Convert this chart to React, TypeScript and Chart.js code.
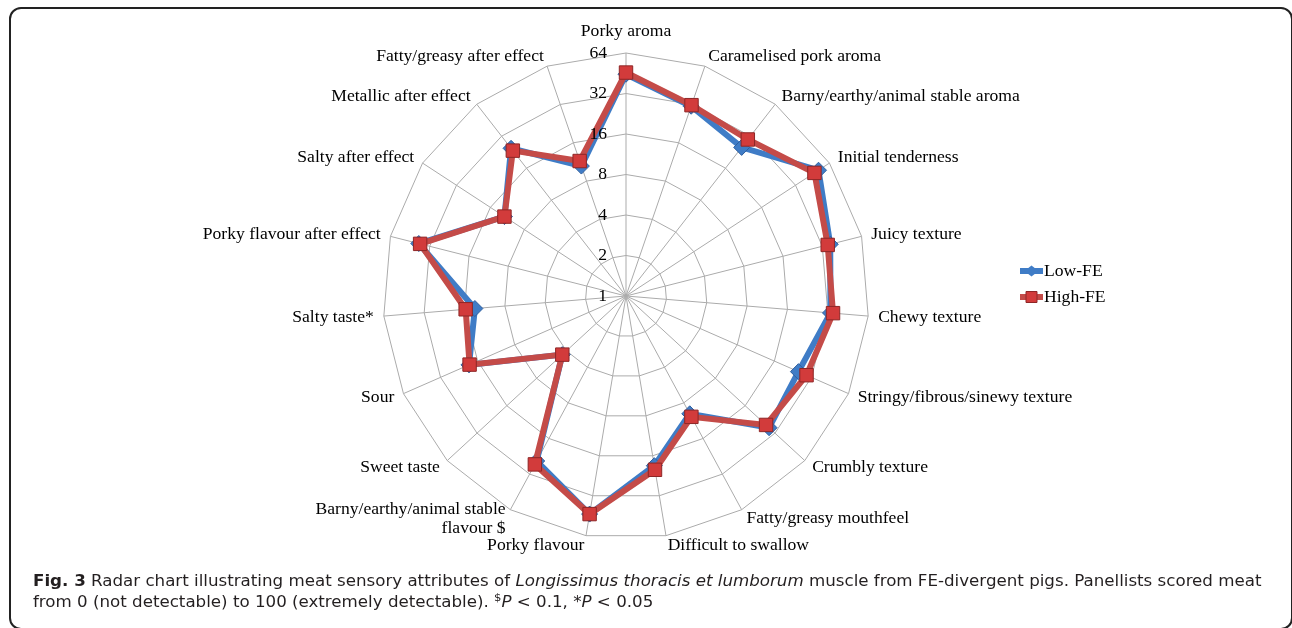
import React, { useEffect, useLayoutEffect, useRef } from "react";
import { Chart, registerables } from "chart.js";

Chart.register(...registerables);

const categories: string[] = [
  "Porky aroma",
  "Caramelised pork aroma",
  "Barny/earthy/animal stable aroma",
  "Initial tenderness",
  "Juicy texture",
  "Chewy texture",
  "Stringy/fibrous/sinewy texture",
  "Crumbly texture",
  "Fatty/greasy mouthfeel",
  "Difficult to swallow",
  "Porky flavour",
  "Barny/earthy/animal stable\nflavour $",
  "Sweet taste",
  "Sour",
  "Salty taste*",
  "Porky flavour after effect",
  "Salty after effect",
  "Metallic after effect",
  "Fatty/greasy after effect",
];

const lowFE: number[] = [44.5, 31.0, 25.1, 51.2, 36.8, 33.5, 25.1, 27.9, 9.9, 19.0, 44.0, 24.8, 4.4, 18.8, 13.4, 38.8, 12.0, 24.6, 10.5];
const highFE: number[] = [45.8, 31.6, 29.8, 47.1, 35.2, 35.0, 29.2, 26.0, 10.5, 20.4, 44.0, 26.5, 4.4, 18.6, 15.7, 37.9, 12.0, 23.4, 11.5];

const tickValues: number[] = [1, 2, 4, 8, 16, 32, 64];
const seriesNames: string[] = ["Low-FE", "High-FE"];

const BLUE = "#3F7CC6";
const BLUE_EDGE = "#2F5F9E";
const RED = "#C44B48";
const RED_FILL = "#D23B3B";
const RED_EDGE = "#8E2626";
const SERIF = '"Liberation Serif", "Times New Roman", serif';
const LABEL_FONT = 17.6;

const overlayPlugin = {
  id: "overlay",
  afterDraw(chart: any) {
    const scale = chart.scales.r;
    const ctx = chart.ctx as CanvasRenderingContext2D;
    ctx.save();
    ctx.fillStyle = "#000";
    ctx.font = `${LABEL_FONT}px ${SERIF}`;
    // tick labels
    ctx.textAlign = "right";
    ctx.textBaseline = "middle";
    tickValues.forEach((t) => {
      const d = scale.getDistanceFromCenterForValue(Math.log2(t));
      ctx.fillText(String(t), scale.xCenter - 19, scale.yCenter - d);
    });
    // point labels
    const n = categories.length;
    const lineH = 19;
    const pad = 10;
    for (let i = 0; i < n; i++) {
      const lines = categories[i].split("\n");
      const h = lines.length * lineH;
      const a = (i * 2 * Math.PI) / n;
      const s = Math.sin(a);
      const c = Math.cos(a);
      const p = scale.getPointPosition(i, scale.drawingArea + pad);
      const centred = Math.abs(s) < 0.02;
      ctx.textAlign = centred ? "center" : s > 0 ? "left" : "right";
      const cy = centred ? p.y - (h / 2 + 2) * c : p.y;
      lines.forEach((ln, k) => {
        ctx.fillText(ln, p.x, cy - h / 2 + lineH * (k + 0.5));
      });
    }
    // legend
    const lx = 1020;
    const ly = 271;
    const gap = 26;
    seriesNames.forEach((name, k) => {
      const y = ly + k * gap;
      ctx.lineWidth = 6;
      ctx.strokeStyle = k === 0 ? BLUE : RED;
      ctx.beginPath();
      ctx.moveTo(lx, y);
      ctx.lineTo(lx + 23, y);
      ctx.stroke();
      const cx = lx + 11.5;
      ctx.beginPath();
      if (k === 0) {
        ctx.moveTo(cx - 7, y);
        ctx.lineTo(cx, y - 5.5);
        ctx.lineTo(cx + 7, y);
        ctx.lineTo(cx, y + 5.5);
        ctx.closePath();
        ctx.fillStyle = BLUE;
        ctx.fill();
      } else {
        ctx.rect(cx - 5.5, y - 5.5, 11, 11);
        ctx.fillStyle = RED_FILL;
        ctx.fill();
        ctx.lineWidth = 1;
        ctx.strokeStyle = RED_EDGE;
        ctx.stroke();
      }
      ctx.fillStyle = "#000";
      ctx.textAlign = "left";
      ctx.textBaseline = "middle";
      ctx.fillText(name, lx + 24, y);
    });
    ctx.restore();
  },
};

function RadarChart() {
  const ref = useRef<HTMLCanvasElement | null>(null);
  useEffect(() => {
    if (!ref.current) return;
    const chart = new Chart(ref.current, {
      type: "radar",
      data: {
        labels: categories,
        datasets: [
          {
            label: seriesNames[0],
            data: lowFE.map((v) => Math.log2(v)),
            borderColor: BLUE,
            backgroundColor: BLUE,
            borderWidth: 6,
            fill: false,
            pointStyle: "rectRot",
            pointRadius: 8,
            pointBackgroundColor: BLUE,
            pointBorderColor: BLUE_EDGE,
            pointBorderWidth: 1,
            order: 2,
          },
          {
            label: seriesNames[1],
            data: highFE.map((v) => Math.log2(v)),
            borderColor: RED,
            backgroundColor: RED,
            borderWidth: 6,
            fill: false,
            pointStyle: "rect",
            pointRadius: 9.5,
            pointBackgroundColor: RED_FILL,
            pointBorderColor: RED_EDGE,
            pointBorderWidth: 1,
            order: 1,
          },
        ],
      },
      options: {
        responsive: false,
        animation: false,
        devicePixelRatio: 1,
        layout: { padding: { left: 300, right: 340, top: 53, bottom: 89 } },
        plugins: { legend: { display: false }, tooltip: { enabled: false } },
        elements: { line: { tension: 0 } },
        scales: {
          r: {
            min: 0,
            max: 6,
            ticks: { display: false, stepSize: 1 },
            pointLabels: { display: false },
            grid: { color: "#ABABAB", lineWidth: 1 },
            angleLines: { color: "#ABABAB", lineWidth: 1 },
          },
        },
      },
      plugins: [overlayPlugin],
    });
    return () => chart.destroy();
  }, []);
  return <canvas ref={ref} width={1292} height={628} style={{ position: "absolute", left: 0, top: 0 }} />;
}

function Caption() {
  const l1 = useRef<HTMLDivElement | null>(null);
  const l2 = useRef<HTMLDivElement | null>(null);
  useLayoutEffect(() => {
    if (!l1.current || !l2.current) return;
    const w = l1.current.scrollWidth;
    const k = 1229 / w;
    l1.current.style.transform = `scaleX(${k})`;
    l2.current.style.transform = `scaleX(${k})`;
  }, []);
  const base: React.CSSProperties = {
    position: "absolute",
    left: 33,
    whiteSpace: "nowrap",
    transformOrigin: "left center",
    fontFamily: '"DejaVu Sans", "Open Sans", sans-serif',
    fontStretch: "condensed",
    fontSize: 16,
    lineHeight: "20px",
    color: "#231F20",
  };
  return (
    <>
      <div ref={l1} style={{ ...base, top: 571 }}>
        <b>Fig. 3</b> Radar chart illustrating meat sensory attributes of <i>Longissimus thoracis et lumborum</i> muscle from FE-divergent pigs. Panellists scored meat
      </div>
      <div ref={l2} style={{ ...base, top: 592 }}>
        from 0 (not detectable) to 100 (extremely detectable).{" "}
        <span style={{ fontSize: "0.7em", position: "relative", top: "-0.5em" }}>$</span>
        <i>P</i> &lt; 0.1, *<i>P</i> &lt; 0.05
      </div>
    </>
  );
}

export default function App() {
  return (
    <div style={{ position: "fixed", left: 0, top: 0, width: 1292, height: 628, overflow: "hidden", background: "#fff" }}>
      <div
        style={{
          position: "absolute",
          left: 9,
          top: 7,
          width: 1284,
          height: 623,
          boxSizing: "border-box",
          border: "2px solid #222",
          borderRadius: 12,
        }}
      />
      <RadarChart />
      <Caption />
    </div>
  );
}
